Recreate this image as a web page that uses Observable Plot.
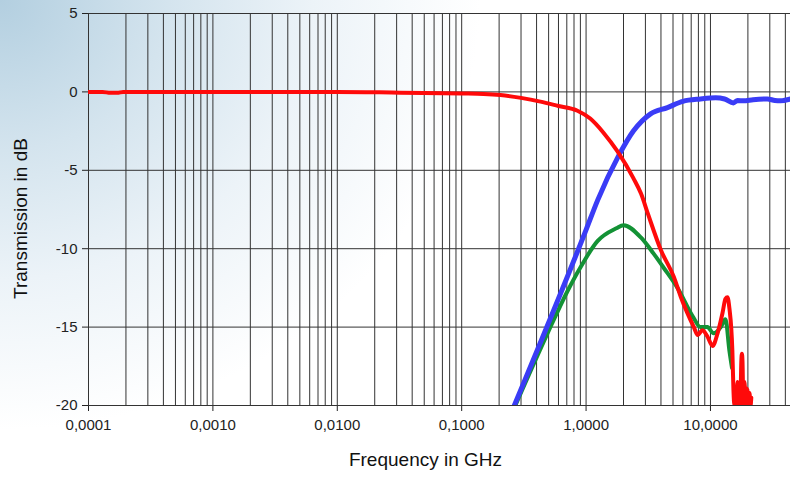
<!DOCTYPE html>
<html><head><meta charset="utf-8">
<script src="https://cdn.jsdelivr.net/npm/d3@7"></script>
<script src="https://cdn.jsdelivr.net/npm/@observablehq/plot@0.6"></script>
<style>
html,body{margin:0;padding:0;}
body{width:790px;height:479px;overflow:hidden;background:radial-gradient(ellipse 480px 430px at 0 0, #b3cfe0 0%, #d4e4ee 35%, #ecf3f8 65%, #ffffff 100%);}
#chart svg{display:block;}
</style></head><body><div id="chart"></div>
<script>
// Axis ticks
const majorTicks = [0.0001, 0.001, 0.01, 0.1, 1, 10];
const minorSteps = [1, 2, 3, 4, 5, 6, 7, 8, 9];
const yTicks = [-20, -15, -10, -5, 0, 5];
const xMax = 44;

// Red series (frequency in GHz, transmission in dB)
const redFreq = [0.0001, 0.00013, 0.00015, 0.00017, 0.00019, 0.001, 0.01, 0.032, 0.1, 0.15, 0.205, 0.3, 0.43, 0.6, 0.853, 1.08, 1.38, 1.79, 2.40, 2.77, 3.15, 4.0, 5.08, 5.79, 7.35, 7.9, 8.6, 9.46, 10.4, 11.4, 12.5, 13.2, 13.7, 14.2, 15.0, 15.3, 15.6, 15.9, 16.2, 16.5, 16.8, 17.1, 17.4, 17.7, 17.9, 18.1, 18.4, 18.8, 19.1, 19.4, 19.8, 20.2, 20.6, 21.0, 21.3];
const redDb   = [0, 0, -0.06, -0.06, 0, 0, 0, -0.05, -0.1, -0.13, -0.2, -0.38, -0.62, -0.9, -1.2, -1.7, -2.6, -3.8, -5.5, -6.5, -7.8, -10.1, -11.8, -13.1, -15.0, -15.5, -15.2, -15.6, -16.2, -15.4, -14.1, -13.2, -13.1, -13.8, -16.5, -19.0, -20, -19, -20, -18.5, -20, -19, -20, -17.2, -16.7, -17.2, -20, -18.5, -20, -18.9, -19, -20, -19.2, -20, -19.5, -20];

// Blue series
const blueFreq = [0.265, 1.0, 1.24, 1.82, 2.40, 3.30, 4.51, 6.0, 8.31, 11.0, 13.0, 15.3, 16.5, 18.4, 22, 28.7, 33, 36.5, 44];
const blueDb   = [-20, -8.8, -6.9, -4.1, -2.5, -1.4, -1.0, -0.6, -0.45, -0.38, -0.45, -0.7, -0.55, -0.57, -0.5, -0.45, -0.55, -0.57, -0.45];

// Green series
const greenFreq = [0.27, 0.49, 0.71, 0.90, 1.24, 1.75, 2.0, 2.77, 3.48, 4.19, 5.43, 7.3, 8.31, 9.46, 10.6, 12.1, 13.2, 14.2, 14.9];
const greenDb   = [-20, -15.4, -12.7, -11.2, -9.5, -8.7, -8.5, -9.3, -10.3, -11.2, -12.5, -14.4, -15.0, -15.0, -15.4, -15.0, -14.5, -16.5, -17.6];

const gridFreqs = majorTicks.flatMap(m => minorSteps.map(s => m * s)).filter(f => f <= xMax);
const toRows = (fs, ds) => fs.map((f, i) => ({f, db: ds[i]}));
const red = toRows(redFreq, redDb);
const blue = toRows(blueFreq, blueDb);
const green = toRows(greenFreq, greenDb);

const chart = Plot.plot({
  width: 790, height: 479,
  marginLeft: 88, marginRight: 0, marginTop: 13, marginBottom: 74,
  style: {background: "transparent", fontFamily: "'Liberation Sans', Arial, sans-serif", fontSize: "15px", color: "#222", overflow: "visible"},
  x: {type: "log", domain: [1e-4, xMax], ticks: majorTicks, tickFormat: d => d.toFixed(4).replace(".", ","), tickSize: 6, tickPadding: 8, label: null},
  y: {domain: [-20, 5], ticks: yTicks, tickFormat: d => String(d), tickSize: 6, tickPadding: 5, label: null},
  marks: [
    Plot.ruleX(gridFreqs, {stroke: "#333", strokeWidth: 1}),
    Plot.ruleY(yTicks, {stroke: "#333", strokeWidth: 1}),
    Plot.line(green, {x: "f", y: "db", stroke: "#139235", strokeWidth: 4, curve: "monotone-x", clip: true}),
    Plot.line(blue, {x: "f", y: "db", stroke: "#3a3cf6", strokeWidth: 5, curve: "monotone-x", clip: true}),
    Plot.line(red, {x: "f", y: "db", stroke: "#ff0a0a", strokeWidth: 4, curve: "monotone-x", clip: true}),
    Plot.text(["Frequency in GHz"], {text: d => d, frameAnchor: "bottom", dx: -14, dy: 60, fontSize: 19, fill: "#111"}),
    Plot.text(["Transmission in dB"], {text: d => d, frameAnchor: "left", textAnchor: "middle", dx: -68, dy: 9, rotate: -90, fontSize: 19, fill: "#111"})
  ]
});
document.getElementById("chart").appendChild(chart);
</script></body></html>
